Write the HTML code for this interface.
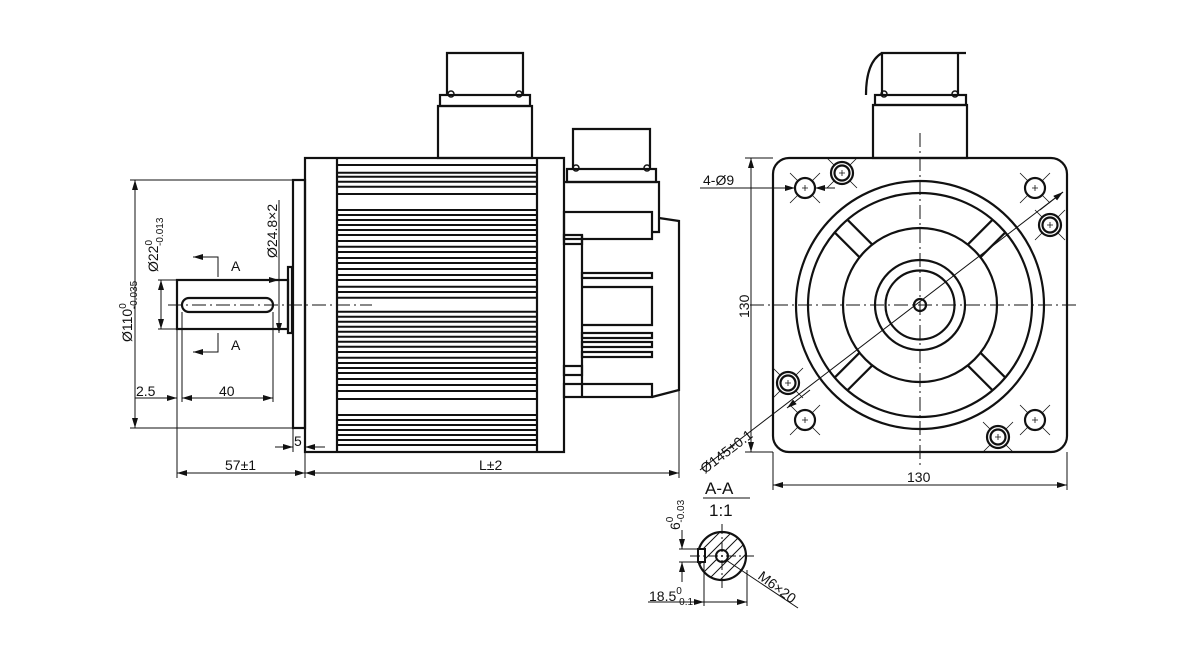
<!DOCTYPE html>
<html><head><meta charset="utf-8"><style>
html,body{margin:0;padding:0;background:#fff;width:1200px;height:660px;overflow:hidden}
svg{display:block}
text{font-family:"Liberation Sans",sans-serif;fill:#111}
</style></head><body>
<svg width="1200" height="660" viewBox="0 0 1200 660" xmlns="http://www.w3.org/2000/svg">
<defs>
<marker id="ar" viewBox="0 0 10 6" refX="10" refY="3" markerWidth="10" markerHeight="6" orient="auto-start-reverse" markerUnits="userSpaceOnUse"><path d="M0,0 L10,3 L0,6 z" fill="#111"/></marker>
<clipPath id="sc"><circle cx="722" cy="556" r="24"/></clipPath>
</defs>
<g stroke="#111" fill="none" stroke-width="2.2">
<rect x="305" y="158" width="259" height="294"/>
<line x1="337" y1="158" x2="337" y2="452"/>
<line x1="537" y1="158" x2="537" y2="452"/>
<rect x="293" y="180" width="12" height="248"/>
<g stroke-width="2">
<line x1="337" x2="537" y1="165" y2="165"/><line x1="337" x2="537" y1="172.7" y2="172.7"/><line x1="337" x2="537" y1="176.7" y2="176.7"/><line x1="337" x2="537" y1="181.7" y2="181.7"/><line x1="337" x2="537" y1="186.7" y2="186.7"/><line x1="337" x2="537" y1="194" y2="194"/>
<line x1="337" x2="537" y1="210" y2="210"/><line x1="337" x2="537" y1="215" y2="215"/><line x1="337" x2="537" y1="220" y2="220"/><line x1="337" x2="537" y1="225" y2="225"/><line x1="337" x2="537" y1="230" y2="230"/><line x1="337" x2="537" y1="235" y2="235"/><line x1="337" x2="537" y1="241" y2="241"/><line x1="337" x2="537" y1="246.7" y2="246.7"/><line x1="337" x2="537" y1="252" y2="252"/><line x1="337" x2="537" y1="258" y2="258"/><line x1="337" x2="537" y1="263" y2="263"/><line x1="337" x2="537" y1="269" y2="269"/><line x1="337" x2="537" y1="275" y2="275"/><line x1="337" x2="537" y1="280" y2="280"/><line x1="337" x2="537" y1="286.7" y2="286.7"/><line x1="337" x2="537" y1="292" y2="292"/><line x1="337" x2="537" y1="297.7" y2="297.7"/>
<line x1="337" x2="537" y1="311.7" y2="311.7"/><line x1="337" x2="537" y1="316.7" y2="316.7"/><line x1="337" x2="537" y1="321.7" y2="321.7"/><line x1="337" x2="537" y1="326.7" y2="326.7"/><line x1="337" x2="537" y1="331.7" y2="331.7"/><line x1="337" x2="537" y1="336.7" y2="336.7"/><line x1="337" x2="537" y1="341.7" y2="341.7"/><line x1="337" x2="537" y1="346.7" y2="346.7"/><line x1="337" x2="537" y1="352" y2="352"/><line x1="337" x2="537" y1="357.7" y2="357.7"/><line x1="337" x2="537" y1="363" y2="363"/><line x1="337" x2="537" y1="368" y2="368"/><line x1="337" x2="537" y1="373" y2="373"/><line x1="337" x2="537" y1="379" y2="379"/><line x1="337" x2="537" y1="385" y2="385"/><line x1="337" x2="537" y1="391" y2="391"/><line x1="337" x2="537" y1="399" y2="399"/>
<line x1="337" x2="537" y1="415" y2="415"/><line x1="337" x2="537" y1="420" y2="420"/><line x1="337" x2="537" y1="425" y2="425"/><line x1="337" x2="537" y1="430" y2="430"/><line x1="337" x2="537" y1="435" y2="435"/><line x1="337" x2="537" y1="440" y2="440"/><line x1="337" x2="537" y1="445" y2="445"/>
</g>
<rect x="438" y="106" width="94" height="52"/>
<rect x="440" y="95" width="90" height="11"/>
<polyline points="447,95 447,53 523,53 523,95"/>
<circle cx="451" cy="94" r="3" stroke-width="1.5"/><circle cx="519" cy="94" r="3" stroke-width="1.5"/>
<rect x="567" y="169" width="89" height="13"/>
<polyline points="573,169 573,129 650,129 650,169"/>
<circle cx="576" cy="168" r="3" stroke-width="1.5"/><circle cx="647" cy="168" r="3" stroke-width="1.5"/>
<polyline points="564,182 659,182 659,232 652,232"/>
<rect x="564" y="212" width="88" height="27"/>
<polyline points="659,218 679,221 679,390 652,397"/>
<rect x="564" y="235" width="18" height="9"/>
<line x1="582" y1="235" x2="582" y2="397"/>
<rect x="582" y="273" width="70" height="5"/>
<polyline points="582,287 652,287 652,325 582,325"/>
<rect x="582" y="333" width="70" height="5"/>
<rect x="582" y="342" width="70" height="5"/>
<rect x="582" y="352" width="70" height="5"/>
<rect x="564" y="366" width="18" height="9"/>
<rect x="564" y="384" width="88" height="13"/>
<rect x="177" y="280" width="111" height="49"/>
<rect x="288" y="267" width="4" height="66"/>
<rect x="182" y="298" width="91" height="14" rx="7"/>
</g>
<g stroke="#111" fill="none" stroke-width="1">
<line x1="168" y1="305" x2="372" y2="305" stroke-dasharray="14,4,2,4"/>
<polyline points="218,277 218,257 193,257" marker-end="url(#ar)"/>
<polyline points="218,333 218,352 193,352" marker-end="url(#ar)"/>
<line x1="130" y1="180" x2="293" y2="180"/><line x1="130" y1="428" x2="293" y2="428"/>
<line x1="135" y1="180" x2="135" y2="428" marker-start="url(#ar)" marker-end="url(#ar)"/>
<line x1="158" y1="280" x2="177" y2="280"/><line x1="158" y1="329" x2="177" y2="329"/>
<line x1="161" y1="280" x2="161" y2="329" marker-start="url(#ar)" marker-end="url(#ar)"/>
<line x1="279" y1="200" x2="279" y2="333" marker-end="url(#ar)"/>
<line x1="279" y1="280" x2="279" y2="280" marker-end="url(#ar)"/>
<line x1="177" y1="329" x2="177" y2="478"/>
<line x1="182" y1="312" x2="182" y2="402"/>
<line x1="273" y1="312" x2="273" y2="402"/>
<line x1="135" y1="398" x2="177" y2="398" marker-end="url(#ar)"/>
<line x1="182" y1="398" x2="273" y2="398" marker-start="url(#ar)" marker-end="url(#ar)"/>
<line x1="293" y1="428" x2="293" y2="452"/>
<line x1="305" y1="452" x2="305" y2="478"/>
<line x1="275" y1="447" x2="293" y2="447" marker-end="url(#ar)"/>
<line x1="325" y1="447" x2="305" y2="447" marker-end="url(#ar)"/>
<line x1="177" y1="473" x2="305" y2="473" marker-start="url(#ar)" marker-end="url(#ar)"/>
<line x1="305" y1="473" x2="679" y2="473" marker-start="url(#ar)" marker-end="url(#ar)"/>
<line x1="679" y1="390" x2="679" y2="478"/>
</g>
<g font-size="14">
<text x="231" y="271">A</text><text x="231" y="350">A</text>
<text x="219" y="396">40</text><text x="136" y="396">2.5</text>
<text x="225" y="470">57±1</text><text x="479" y="470">L±2</text>
<text x="294" y="446">5</text>
<text transform="translate(132,342) rotate(-90)">Ø110<tspan font-size="10" dy="-6">0</tspan><tspan font-size="10" dx="-6" dy="11">-0.035</tspan></text>
<text transform="translate(158,272) rotate(-90)">Ø22<tspan font-size="10" dy="-6">0</tspan><tspan font-size="10" dx="-6" dy="11">-0.013</tspan></text>
<text transform="translate(277,258) rotate(-90)">Ø24.8×2</text>
</g>
<!-- RIGHT VIEW -->
<g stroke="#111" fill="none" stroke-width="2.2">
<rect x="773" y="158" width="294" height="294" rx="16"/>
<circle cx="920" cy="305" r="124"/>
<circle cx="920" cy="305" r="112"/>
<circle cx="920" cy="305" r="77"/>
<circle cx="920" cy="305" r="45"/>
<circle cx="920" cy="305" r="34.5"/>
<circle cx="920" cy="305" r="6"/>
<g transform="rotate(45 920 305)"><line x1="997" y1="296" x2="1032" y2="296"/><line x1="997" y1="314" x2="1032" y2="314"/></g>
<g transform="rotate(135 920 305)"><line x1="997" y1="296" x2="1032" y2="296"/><line x1="997" y1="314" x2="1032" y2="314"/></g>
<g transform="rotate(225 920 305)"><line x1="997" y1="296" x2="1032" y2="296"/><line x1="997" y1="314" x2="1032" y2="314"/></g>
<g transform="rotate(315 920 305)"><line x1="997" y1="296" x2="1032" y2="296"/><line x1="997" y1="314" x2="1032" y2="314"/></g>
<g stroke-width="0.8">
<path d="M790,173 l30,30 M820,173 l-30,30 M1020,173 l30,30 M1050,173 l-30,30 M790,405 l30,30 M820,405 l-30,30 M1020,405 l30,30 M1050,405 l-30,30"/>
<path d="M827,158 l30,30 M857,158 l-30,30 M1035,210 l30,30 M1065,210 l-30,30 M773,368 l30,30 M803,368 l-30,30 M983,422 l30,30 M1013,422 l-30,30"/>
</g>
<g fill="#fff">
<circle cx="805" cy="188" r="10"/><circle cx="1035" cy="188" r="10"/><circle cx="805" cy="420" r="10"/><circle cx="1035" cy="420" r="10"/>
<circle cx="842" cy="173" r="11"/><circle cx="842" cy="173" r="7.5"/>
<circle cx="1050" cy="225" r="11"/><circle cx="1050" cy="225" r="7.5"/>
<circle cx="788" cy="383" r="11"/><circle cx="788" cy="383" r="7.5"/>
<circle cx="998" cy="437" r="11"/><circle cx="998" cy="437" r="7.5"/>
</g>
<path stroke-width="0.8" d="M802,188h6M805,185v6M1032,188h6M1035,185v6M802,420h6M805,417v6M1032,420h6M1035,417v6M839,173h6M842,170v6M1047,225h6M1050,222v6M785,383h6M788,380v6M995,437h6M998,434v6"/>
<rect x="873" y="105" width="94" height="53"/>
<rect x="875" y="95" width="91" height="10"/>
<polyline points="882,95 882,53 966,53"/>
<line x1="958" y1="53" x2="958" y2="95"/>
<path d="M882,53 Q866,62 866,95"/>
<circle cx="884" cy="94" r="3" stroke-width="1.5"/><circle cx="955" cy="94" r="3" stroke-width="1.5"/>
</g>
<g stroke="#111" fill="none" stroke-width="1">
<line x1="920" y1="133" x2="920" y2="466" stroke-dasharray="14,4,2,4"/>
<line x1="750" y1="305" x2="1080" y2="305" stroke-dasharray="14,4,2,4"/>
<line x1="700" y1="470" x2="1063" y2="192"/>
<line x1="1040" y1="210" x2="1063" y2="192" marker-end="url(#ar)"/>
<line x1="810" y1="390" x2="787" y2="408" marker-end="url(#ar)"/>
<line x1="700" y1="188" x2="795" y2="188" marker-end="url(#ar)"/>
<line x1="835" y1="188" x2="815" y2="188" marker-end="url(#ar)"/>
<line x1="745" y1="158" x2="773" y2="158"/><line x1="745" y1="452" x2="773" y2="452"/>
<line x1="751" y1="158" x2="751" y2="452" marker-start="url(#ar)" marker-end="url(#ar)"/>
<line x1="773" y1="452" x2="773" y2="490"/><line x1="1067" y1="452" x2="1067" y2="490"/>
<line x1="773" y1="485" x2="1067" y2="485" marker-start="url(#ar)" marker-end="url(#ar)"/>
</g>
<g font-size="14">
<text x="703" y="185">4-Ø9</text>
<text transform="translate(749,318) rotate(-90)">130</text>
<text x="907" y="482">130</text>
<text transform="translate(705,474) rotate(-37.5)">Ø145±0.1</text>
</g>
<!-- SECTION A-A -->
<g font-size="17"><text x="705" y="494">A-A</text><text x="709" y="516">1:1</text></g>
<g stroke="#111" fill="none">
<line x1="703" y1="498" x2="750" y2="498" stroke-width="1"/>
<g clip-path="url(#sc)" stroke-width="1">
<path d="M680,560 l60,-60 M680,572 l60,-60 M680,584 l60,-60 M684,592 l60,-60 M696,592 l60,-60 M708,592 l60,-60 M720,592 l60,-60 M732,592 l60,-60 M744,592 l60,-60"/>
</g>
<circle cx="722" cy="556" r="24" stroke-width="2.2"/>
<circle cx="722" cy="556" r="6" stroke-width="2" fill="#fff"/>
<rect x="698" y="549" width="7" height="13" stroke-width="2" fill="#fff"/>
<g stroke-width="1">
<line x1="722" y1="524" x2="722" y2="590" stroke-dasharray="10,3,2,3"/>
<line x1="690" y1="556" x2="755" y2="556" stroke-dasharray="10,3,2,3"/>
<line x1="679" y1="549" x2="700" y2="549"/><line x1="679" y1="562" x2="700" y2="562"/>
<line x1="682" y1="530" x2="682" y2="549" marker-end="url(#ar)"/>
<line x1="682" y1="582" x2="682" y2="562" marker-end="url(#ar)"/>
<line x1="704" y1="562" x2="704" y2="606"/><line x1="747" y1="570" x2="747" y2="606"/>
<line x1="648" y1="602" x2="704" y2="602" marker-end="url(#ar)"/>
<line x1="728" y1="602" x2="747" y2="602" marker-end="url(#ar)"/>
<line x1="704" y1="602" x2="747" y2="602"/>
<line x1="726" y1="560" x2="798" y2="608"/>
</g>
</g>
<g font-size="14">
<text x="649" y="601">18.5<tspan font-size="10" dy="-7">0</tspan><tspan font-size="10" dx="-6" dy="11">-0.1</tspan></text>
<text transform="translate(680,530) rotate(-90)">6<tspan font-size="10" dy="-7">0</tspan><tspan font-size="10" dx="-6" dy="11">-0.03</tspan></text>
<text transform="translate(757,578) rotate(37)">M6×20</text>
</g>
</svg>
</body></html>
